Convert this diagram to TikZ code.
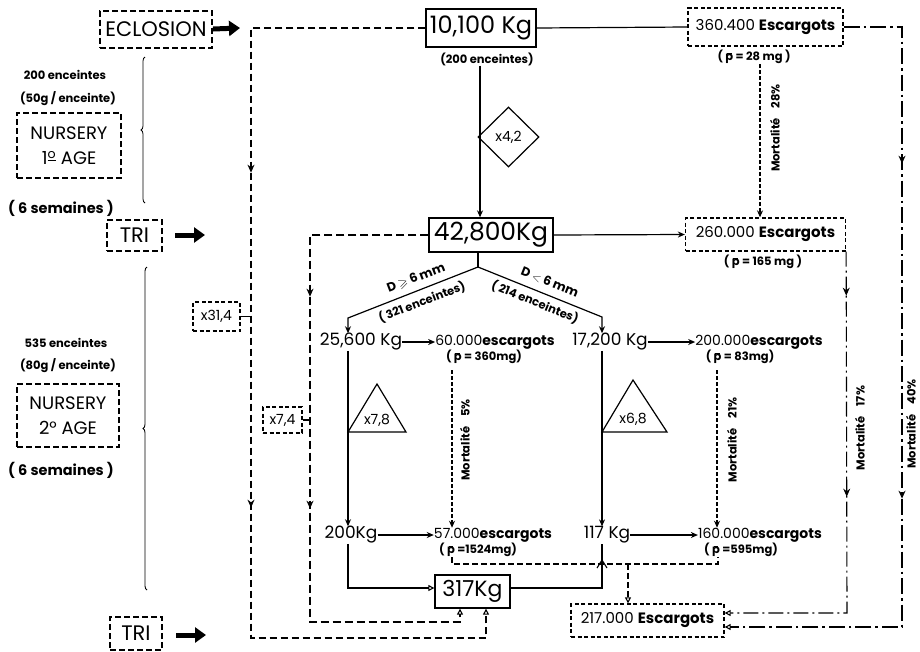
\documentclass[tikz,border=0pt]{standalone}
\usepackage{fontspec}
\setmainfont{Poppins}
\usepackage{amssymb}
\usetikzlibrary{arrows.meta,shapes.geometric,decorations.pathreplacing,decorations.markings}
\newcommand\pb{\ooalign{p\cr\hidewidth\raisebox{0.62em}{\rule{0.42em}{0.07em}}\hidewidth\cr}}
\begin{document}
\begin{tikzpicture}[x=1pt,y=-1pt,
  sbox/.style={draw, line width=1.3pt, inner sep=0pt},
  dbox/.style={draw, line width=1.3pt, dash pattern=on 4pt off 2.5pt, inner sep=0pt},
  dboxT/.style={draw, line width=2pt, dash pattern=on 6pt off 3pt, inner sep=0pt},
  lbl/.style={inner sep=0pt},
  sm/.style={inner sep=0pt, font=\fontsize{11.5}{11.5}\selectfont\bfseries},
  sem/.style={inner sep=0pt, font=\fontsize{14.5}{14.5}\selectfont\bfseries},
  mid/.style={inner sep=0pt, font=\fontsize{17}{17}\selectfont},
  esc/.style={inner sep=0pt, font=\fontsize{14}{14}\selectfont},
  mlab/.style={inner sep=0pt, rotate=90, font=\fontsize{11.5}{11.5}\selectfont\bfseries},
  blockarrow/.style={line width=5pt, -{Triangle[length=11pt,width=15pt]}},
  tipS/.style={-{Stealth[length=7pt,width=6pt]}},
  tipO/.style={-{Triangle[open,length=6pt,width=6pt]}, line width=1.1pt},
  solidline/.style={line width=1.2pt},
  loopA/.style={line width=2.6pt, dash pattern=on 7pt off 4pt},
  loopB/.style={line width=1.6pt, dash pattern=on 8pt off 4pt},
  surv/.style={line width=1.4pt, dash pattern=on 6pt off 3pt},
  mort/.style={line width=1.5pt, dash pattern=on 4pt off 2pt},
  ddA/.style={line width=1.5pt, dash pattern=on 15pt off 4pt on 2pt off 4pt},
  ddB/.style={line width=2.6pt, dash pattern=on 16pt off 4pt on 2.5pt off 4pt},
  arr2/.style 2 args={postaction={decorate}, decoration={markings,
     mark=at position #1 with {\arrow{Stealth[length=8pt,width=7pt]}},
     mark=at position #2 with {\arrow{Stealth[length=8pt,width=7pt]}}}}
]
\useasboundingbox (0,0) rectangle (920,651);

% ---------- left column ----------
\node[dboxT, minimum width=112, minimum height=37] (ecl) at (156,29) {\fontsize{21}{21}\selectfont ECLOSION};
\node[dboxT, minimum width=55, minimum height=31] (tri1) at (134.5,235.5) {\fontsize{21}{21}\selectfont TRI};
\node[dboxT, minimum width=52, minimum height=33] (tri2) at (136,633.5) {\fontsize{21}{21}\selectfont TRI};
\node[dboxT, minimum width=104, minimum height=65, align=center, font=\fontsize{18}{25}\selectfont] (nur1) at (69,145.5) {NURSERY\\1\textsuperscript{\underline{o}} AGE};
\node[dboxT, minimum width=102, minimum height=63, align=center, font=\fontsize{18}{25}\selectfont] (nur2) at (68,415.5) {NURSERY\\2° AGE};
\node[sm] (enc1) at (65,75) {200 enceintes};
\node[sm] (g1) at (68,99) {(50g / enceinte)};
\node[sem] (sem1) at (61,208) {( 6 semaines )};
\node[sm] (enc2) at (66,343) {535 enceintes};
\node[sm] (g2) at (68,366) {(80g / enceinte)};
\node[sem] (sem2) at (61,470) {( 6 semaines )};

\coordinate (eclT) at (240,28);
\draw[blockarrow] (ecl.east) -- (eclT);
\coordinate (tri1T) at (205,235);
\coordinate (tri1S) at (175,235);
\draw[blockarrow] (tri1S) -- (tri1T);
\coordinate (tri2T) at (206,635);
\coordinate (tri2S) at (176,635);
\draw[blockarrow] (tri2S) -- (tri2T);

\draw[decorate, decoration={brace, amplitude=4pt}, line width=0.8pt] (145,203) -- (145,57);
\draw[decorate, decoration={brace, amplitude=4pt}, line width=0.9pt] (147,590) -- (147,267);

% ---------- boxes ----------
\node[sbox, minimum width=110, minimum height=38] (b10) at (481,28) {\fontsize{24}{24}\selectfont 10,100 Kg};
\node[sm] (e200) at (487,59) {(200 enceintes)};
\node[draw, diamond, line width=1.2pt, minimum width=61, minimum height=60, inner sep=0pt, font=\fontsize{14}{14}\selectfont] (dia) at (508.5,137) {x4,2};
\node[sbox, minimum width=124, minimum height=34] (b428) at (491,235) {\fontsize{25}{25}\selectfont 42,800Kg};
\node[dbox, minimum width=155, minimum height=38] (b360) at (765.5,27) {\fontsize{15}{15}\selectfont 360.400 {\bfseries Escargots}};
\node[sm] (p28) at (754,57) {( \pb\ = 28 mg )};
\node[dbox, minimum width=160, minimum height=33] (b260) at (765.5,234.5) {\fontsize{15}{15}\selectfont 260.000 {\bfseries Escargots}};
\node[sm] (p165) at (763,262) {( \pb\ = 165 mg )};
\node[sbox, minimum width=75, minimum height=33] (b317) at (472.5,591.5) {\fontsize{22}{22}\selectfont 317Kg};
\node[dbox, minimum width=153, minimum height=33] (b217) at (647.5,620.5) {\fontsize{15}{15}\selectfont 217.000 {\bfseries Escargots}};
\node[dbox, minimum width=47, minimum height=29, font=\fontsize{14}{14}\selectfont] (x314) at (216.5,316.5) {x31,4};
\node[dbox, minimum width=39, minimum height=26, font=\fontsize{14}{14}\selectfont] (x74) at (282.5,420) {x7,4};

% ---------- middle texts ----------
\node[mid] (t256) at (361,342) {25,600 Kg};
\node[esc] (t60) at (495,342) {60.000{\bfseries escargots}};
\node[sm] (p360) at (484,357) {( \pb\ = 360mg)};
\node[mid] (t172) at (610,342) {17,200 Kg};
\node[esc] (t2000) at (759,342) {200.000{\bfseries escargots}};
\node[sm] (p83) at (740,357) {( \pb\ = 83mg)};
\node[mid] (t200) at (351,535) {200Kg};
\node[esc] (t57) at (493,535) {57.000{\bfseries escargots}};
\node[sm] (p1524) at (478,550) {( \pb\ =1524mg)};
\node[mid] (t117) at (607,535) {117 Kg};
\node[esc] (t160) at (760,535) {160.000{\bfseries escargots}};
\node[sm] (p595) at (741,550) {( \pb\ =595mg)};

% triangles
\coordinate (ta1) at (348,432); \coordinate (ta2) at (406,432); \coordinate (ta3) at (377,384);
\draw[line width=1.2pt] (ta1) -- (ta2) -- (ta3) -- cycle;
\node[lbl, font=\fontsize{14}{14}\selectfont] (x78) at (377,420) {x7,8};
\coordinate (tb1) at (602,432); \coordinate (tb2) at (667,432); \coordinate (tb3) at (633,380);
\draw[line width=1.2pt] (tb1) -- (tb2) -- (tb3) -- cycle;
\node[lbl, font=\fontsize{14}{14}\selectfont] (x68) at (633,419) {x6,8};

% ---------- solid connectors ----------
\draw[solidline] (b10.east) -- (b360.west);
\draw[solidline, tipS] (e200.south -| 480,0) -- (b428.north -| 480,0);
\draw[solidline, tipS] (b428.east) -- (b260.west);
\coordinate (split) at (478,267);
\coordinate (lsplit) at (348,318);
\coordinate (rsplit) at (602,317);
\draw[solidline] (split |- b428.south) -- (split);
\draw[solidline, tipS] (split) -- (lsplit) -- (t256.north -| lsplit);
\draw[solidline, tipS] (split) -- (rsplit) -- (t172.north -| rsplit);
\node[lbl, rotate=21, font=\fontsize{12.5}{12.5}\selectfont\bfseries] (dge) at (416,278) {D $\geqslant$ 6 mm};
\node[lbl, rotate=21, font=\fontsize{11.5}{11.5}\selectfont\bfseries] (e321) at (422,302) {( 321 enceintes)};
\node[lbl, rotate=-22, font=\fontsize{12.5}{12.5}\selectfont\bfseries] (dlt) at (550,282) {D {\normalfont$<$} 6 mm};
\node[lbl, rotate=-22, font=\fontsize{11.5}{11.5}\selectfont\bfseries] (e214) at (535,302) {( 214 enceintes)};

\draw[solidline, tipS] (t256.east) -- (t60.west);
\draw[solidline, tipS] (t172.east) -- (t2000.west);
\draw[solidline, tipS] (t200.east) -- (t57.west);
\draw[solidline, tipS] (t117.east) -- (t160.west);
\draw[solidline, tipS] (t256.south -| 348,0) -- (t200.north -| 348,0);
\draw[solidline, tipS] (t172.south -| 602,0) -- (t117.north -| 602,0);
\draw[solidline, tipO] (t200.south -| 348,0) -- (348,588) -- (b317.west |- 0,588);
\draw[solidline] (b317.east |- 0,588) -- (602,588) -- (t117.south -| 602,0);
\draw[line width=1.1pt] (597,568) -- (602,560) -- (607,568);

% ---------- mortality dashed ----------
\draw[mort, tipS] (p28.south -| 760,0) -- (b260.north -| 760,0);
\node[mlab] (m28) at (775,128) {Mortalité\hspace{10pt}28\%};
\draw[mort, tipS] (452,370) -- (t57.north -| 452,0);
\node[mlab] (m5) at (465,440) {Mortalité\hspace{10pt}5\%};
\draw[mort, tipS] (717,370) -- (t160.north -| 717,0);
\node[mlab] (m21) at (732,440) {Mortalité\hspace{10pt}21\%};
\node[mlab] (m17) at (860,428) {Mortalité\hspace{10pt}17\%};
\node[mlab] (m40) at (911,424) {Mortalité\hspace{10pt}40\%};

% survivors to 217.000
\draw[surv] (p1524.south -| 452,0) -- (452,564) -- (718,564) -- (p595.south -| 718,0);
\draw[surv, tipO] (628,564) -- (b217.north -| 628,0);

% ---------- loops ----------
\draw[loopA, arr2={319pt}{654pt}, tipO] (b10.west) -- (251,28) -- (251,638) -- (486,638) -- (b317.south -| 486,0);
\draw[loopB, arr2={180pt}{392pt}, tipO] (b428.west) -- (310,235) -- (310,622) -- (460,622) -- (b317.south -| 460,0);
\draw[solidline] (x314.east) -- (251,316.5);
\draw[solidline] (x74.east) -- (310,420);

% ---------- dash-dot right ----------
\draw[ddB, arr2={195pt}{530pt}, tipO] (b360.east) -- (902,27) -- (902,627) -- (b217.east |- 0,627);
\draw[ddA, arr2={44pt}{245pt}, tipO] (b260.south east) -- (847,613) -- (b217.east |- 0,613);
\end{tikzpicture}
\end{document}
